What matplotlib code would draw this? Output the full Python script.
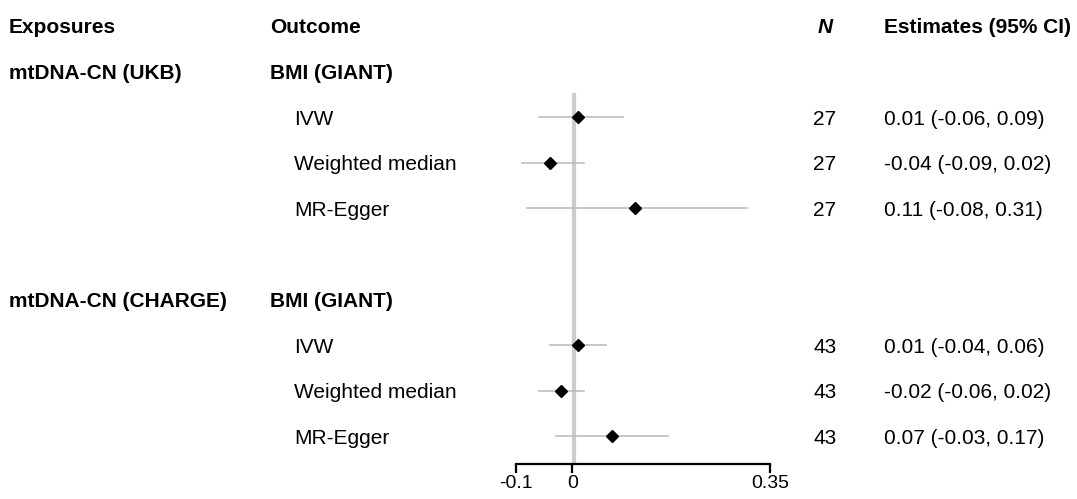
import matplotlib.pyplot as plt
import matplotlib.transforms as mtransforms

plt.rcParams['font.family'] = ['Liberation Sans', 'DejaVu Sans']

# data
exposures = ["mtDNA-CN (UKB)", "mtDNA-CN (CHARGE)"]
outcome = "BMI (GIANT)"
methods = ["IVW", "Weighted median", "MR-Egger"]
n_snps = [[27, 27, 27], [43, 43, 43]]
est = [[0.01, -0.04, 0.11], [0.01, -0.02, 0.07]]
lo = [[-0.06, -0.09, -0.08], [-0.04, -0.06, -0.03]]
hi = [[0.09, 0.02, 0.31], [0.06, 0.02, 0.17]]
xticks = [-0.1, 0, 0.35]
xtick_labels = ["-0.1", "0", "0.35"]

W, H = 1077, 499
fig = plt.figure(figsize=(W / 100, H / 100), dpi=100)

# forest panel: x from -0.1 (px 516) to 0.35 (px 770), rows spaced 45.6 px from y=26
step, y0 = 45.6, 26
ax = fig.add_axes([516 / W, 0, (770 - 516) / W, 1])
ax.set_xlim(-0.1, 0.35)
ax.set_ylim((H - y0) / step, -y0 / step)
for s in ["top", "right", "left"]:
    ax.spines[s].set_visible(False)
axis_row = (464 - y0) / step
ax.spines["bottom"].set_position(("data", axis_row))
ax.spines["bottom"].set_linewidth(1.6)
ax.spines["bottom"].set_bounds(-0.1, 0.35)
ax.set_yticks([])
ax.set_xticks(xticks)
ax.set_xticklabels(xtick_labels, fontsize=14)
ax.tick_params(axis="x", length=6.5, width=1.6, pad=1.5)
ax.patch.set_visible(False)

ax.plot([0.002, 0.002], [(93 - y0) / step, axis_row], color="#cccccc", lw=3, zorder=0, solid_capstyle="butt")

fs = 15
dy = 2 / step  # small downward nudge of the text rows
tr = mtransforms.blended_transform_factory(fig.transFigure, ax.transData)
col_exp, col_out, col_meth, col_n, col_est = 9 / W, 270 / W, 294 / W, 825 / W, 884 / W

ax.text(col_exp, dy, "Exposures", transform=tr, fontsize=fs, fontweight="bold", va="center")
ax.text(col_out, dy, "Outcome", transform=tr, fontsize=fs, fontweight="bold", va="center")
ax.text(col_n, dy, "N", transform=tr, fontsize=fs, fontweight="bold", style="italic", va="center", ha="center")
ax.text(col_est, dy, "Estimates (95% CI)", transform=tr, fontsize=fs, fontweight="bold", va="center")

for g, exp in enumerate(exposures):
    r0 = 1 + 5 * g
    ax.text(col_exp, r0 + dy, exp, transform=tr, fontsize=fs, fontweight="bold", va="center")
    ax.text(col_out, r0 + dy, outcome, transform=tr, fontsize=fs, fontweight="bold", va="center")
    for i, m in enumerate(methods):
        r = r0 + 1 + i
        ax.plot([lo[g][i], hi[g][i]], [r, r], color="#bdbdbd", lw=1.2, zorder=1)
        ax.plot(est[g][i], r, marker="D", color="black", markersize=6.5, zorder=2)
        ax.text(col_meth, r + dy, m, transform=tr, fontsize=fs, va="center")
        ax.text(col_n, r + dy, str(n_snps[g][i]), transform=tr, fontsize=fs, va="center", ha="center")
        ax.text(col_est, r + dy, f"{est[g][i]:.2f} ({lo[g][i]:.2f}, {hi[g][i]:.2f})",
                transform=tr, fontsize=fs, va="center")

fig.savefig("out.png", dpi=100)
